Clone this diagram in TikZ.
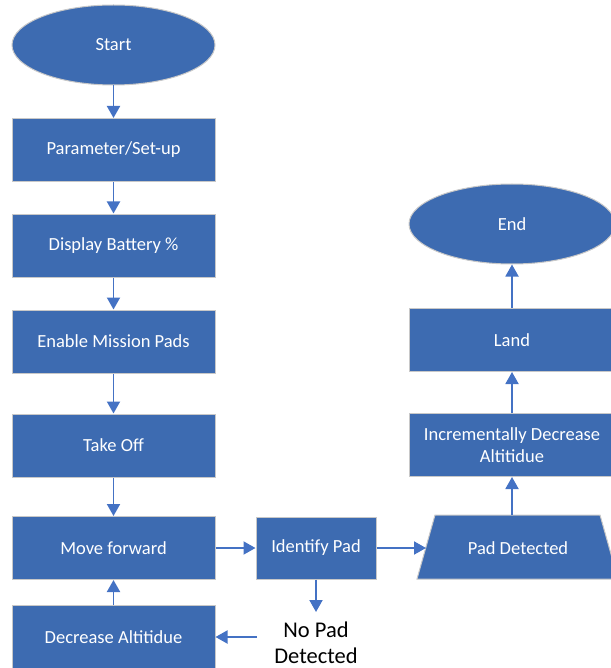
\documentclass[tikz,border=0pt]{standalone}
\usepackage{fontspec}
\setmainfont{Carlito}
\usetikzlibrary{shapes.geometric,arrows.meta}
\definecolor{boxblue}{HTML}{3D6BB1}
\definecolor{arrblue}{HTML}{4472C4}
\definecolor{edgegray}{HTML}{C8C8C8}
\tikzset{
  boxfont/.style={font=\fontsize{18.5}{22}\selectfont},
  base/.style={fill=boxblue, draw=edgegray, line width=1pt, text=white, boxfont, align=center, inner sep=0pt},
  procbox/.style={base, rectangle, minimum width=203pt, minimum height=63pt},
  term/.style={base, ellipse, minimum width=203pt, minimum height=80pt},
  smallbox/.style={base, rectangle, minimum width=120pt, minimum height=62pt},
  conn/.style={draw=arrblue, line width=1.9pt, -{Triangle[length=12pt,width=13pt]}},
}
\begin{document}
\begin{tikzpicture}[x=1pt,y=-1pt]
\useasboundingbox (0,0) rectangle (610,668);
\node[term] (start) at (113.5,45) {Start};
\node[procbox] (param) at (113.5,150) {Parameter/Set-up};
\node[procbox] (batt) at (113.5,245.5) {Display Battery \%};
\node[procbox] (pads) at (113.5,341.5) {Enable Mission Pads};
\node[procbox] (takeoff) at (113.5,445.5) {Take Off};
\node[procbox] (move) at (113.5,548) {Move forward};
\node[procbox] (decr) at (113.5,637) {Decrease Altitidue};
\node[smallbox] (ident) at (316,548) {Identify Pad};
\path[base, draw=edgegray] (435,515) -- (600,515) -- (618,579) -- (417,579) -- cycle;
\node[text=white, boxfont] (det) at (518,548) {Pad Detected};
\coordinate (detleft) at (426,548);
\coordinate (dettop) at (512,515);
\node[procbox, minimum width=206pt] (inc) at (512,445) {Incrementally Decrease\\Altitidue};
\node[procbox, minimum width=206pt] (land) at (512,340) {Land};
\node[term, minimum width=206pt] (endn) at (512,224) {End};
\node[font=\fontsize{22.5}{26}\selectfont, align=center, inner sep=0pt] (nopad) at (316,643) {No Pad\\Detected};
\coordinate (nopadtop) at (316,612);
\coordinate (nopadleft) at (257,637);
\draw[conn] (start) -- (param);
\draw[conn] (param) -- (batt);
\draw[conn] (batt) -- (pads);
\draw[conn] (pads) -- (takeoff);
\draw[conn] (takeoff) -- (move);
\draw[conn] (decr) -- (move);
\draw[conn] (move) -- (ident);
\draw[conn] (ident) -- (detleft);
\draw[conn] (ident) -- (nopadtop);
\draw[conn] (nopadleft) -- (decr);
\draw[conn] (dettop) -- (inc);
\draw[conn] (inc) -- (land);
\draw[conn] (land) -- (endn);
\end{tikzpicture}
\end{document}
